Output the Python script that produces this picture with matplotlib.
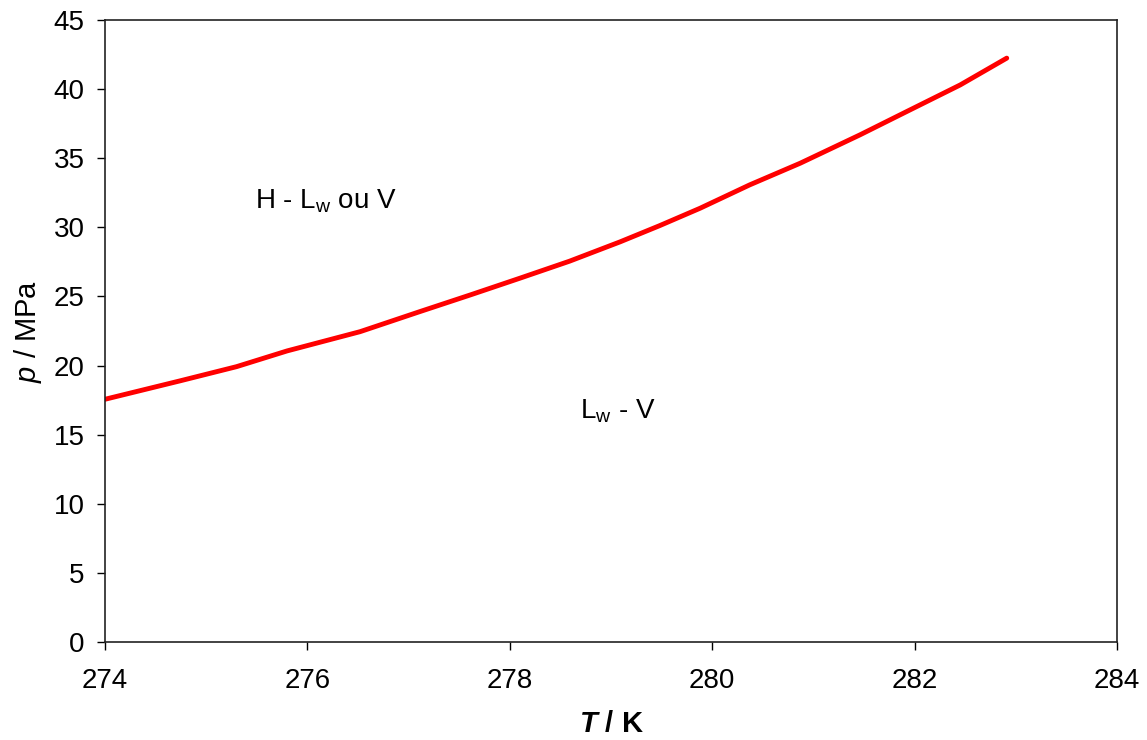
import matplotlib
matplotlib.use('Agg')
import matplotlib.pyplot as plt

plt.rcParams['font.family'] = ['Liberation Sans', 'DejaVu Sans']
plt.rcParams['mathtext.fontset'] = 'custom'
plt.rcParams['mathtext.rm'] = 'Liberation Sans'
plt.rcParams['mathtext.it'] = 'Liberation Sans:italic'
plt.rcParams['mathtext.bf'] = 'Liberation Sans:bold'
plt.rcParams['mathtext.bfit'] = 'Liberation Sans:italic:bold'

# equilibrium curve
T = [274.00, 274.74, 275.30, 275.80, 276.52, 277.11, 277.61, 278.10, 278.59,
     279.09, 279.48, 279.88, 280.37, 280.87, 281.46, 281.92, 282.45, 282.91]
p = [17.56, 18.89, 19.92, 21.06, 22.45, 23.90, 25.11, 26.32, 27.55,
     28.95, 30.12, 31.38, 33.07, 34.64, 36.69, 38.37, 40.30, 42.24]

xticks = [274, 276, 278, 280, 282, 284]
yticks = [0, 5, 10, 15, 20, 25, 30, 35, 40, 45]

fig = plt.figure(figsize=(11.47, 7.4), dpi=100)
ax = fig.add_axes([0.0915, 0.1324, 0.8824, 0.8406])

ax.plot(T, p, color='#ff0000', linewidth=3.5, solid_capstyle='round')

ax.set_xlim(274, 284)
ax.set_ylim(0, 45)
ax.set_xticks(xticks)
ax.set_yticks(yticks)
ax.tick_params(direction='out', length=5.5, width=1, labelsize=20, pad=13)
ax.tick_params(axis='y', pad=9)
for s in ax.spines.values():
    s.set_linewidth(1.2)
    s.set_color('#222222')

ax.set_xlabel(r'$\mathbfit{T}$ / K', fontsize=21, fontweight='bold', labelpad=12)
ax.set_ylabel(r'$\mathit{p}$ / MPa', fontsize=21, labelpad=7)

ax.text(275.48, 31.33, r'H - L$_\mathrm{w}$ ou V', fontsize=20, va='baseline', ha='left')
ax.text(278.69, 16.14, r'L$_\mathrm{w}$ - V', fontsize=20, va='baseline', ha='left')

fig.savefig('out.png', dpi=100)
